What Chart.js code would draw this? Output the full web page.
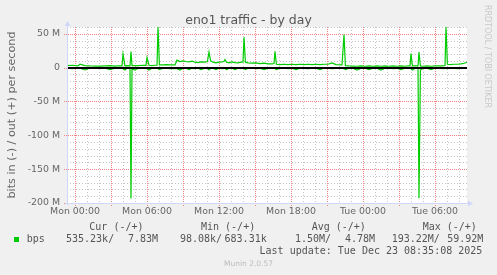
<!DOCTYPE html>
<html>
<head>
<meta charset="utf-8">
<script src="https://cdn.jsdelivr.net/npm/chart.js@4/dist/chart.umd.min.js"></script>
<style>
  body { margin: 0; background: #f0f0f0; }
  #wrap { position: relative; width: 497px; height: 275px; overflow: hidden; background: #f0f0f0; }
  #chart { position: absolute; left: 0; top: 0; }
  .t { position: absolute; white-space: pre; color: #666; }
  .mono { font: 10px/12px "DejaVu Sans Mono", monospace; color: #555; }
</style>
</head>
<body>
<div id="wrap">
  <canvas id="chart" width="497" height="275"></canvas>
  <div class="t" style="left:0;width:497px;top:11.7px;text-align:center;font:12.5px/16px 'DejaVu Sans';color:#555;">eno1 traffic - by day</div>
  <div class="t" style="left:481px;top:5px;writing-mode:vertical-rl;font:8px/12px 'DejaVu Sans';color:#c8c8c8;">RRDTOOL / TOBI OETIKER</div>

  <div class="t mono" style="left:89.3px;top:221.3px;">Cur (-/+)</div>
  <div class="t mono" style="left:201px;top:221.3px;">Min (-/+)</div>
  <div class="t mono" style="left:311.7px;top:221.3px;">Avg (-/+)</div>
  <div class="t mono" style="left:422.7px;top:221.3px;">Max (-/+)</div>

  <div style="position:absolute;left:14px;top:236.5px;width:5px;height:5px;background:#00cc00;"></div>
  <div class="t mono" style="left:26.7px;top:233.3px;">bps</div>
  <div class="t mono" style="left:66px;top:233.3px;">535.23k/</div>
  <div class="t mono" style="right:339px;top:233.3px;">7.83M</div>
  <div class="t mono" style="left:180px;top:233.3px;">98.08k/</div>
  <div class="t mono" style="right:230.3px;top:233.3px;">683.31k</div>
  <div class="t mono" style="left:295px;top:233.3px;">1.50M/</div>
  <div class="t mono" style="right:122px;top:233.3px;">4.78M</div>
  <div class="t mono" style="left:391.7px;top:233.3px;">193.22M/</div>
  <div class="t mono" style="right:13.7px;top:233.3px;">59.92M</div>

  <div class="t mono" style="right:14.7px;top:245.3px;">Last update: Tue Dec 23 08:35:08 2025</div>
  <div class="t" style="left:0;width:497px;top:259.2px;text-align:center;font:7.5px/10px 'DejaVu Sans';color:#bbb;">Munin 2.0.57</div>
</div>
<script>
// minutes since Sun 23:20 (start of the 400px window, 5 min per pixel)
const minutes = [
  0, 25, 55, 65, 90, 115, 140, 165, 190, 215, 240, 255, 275, 280, 290, 300, 315, 320, 325, 340,
  355, 380, 395, 400, 410, 425, 440, 450, 455, 462, 480, 500, 515, 540, 550, 565, 580, 595, 610, 625,
  640, 655, 670, 690, 702, 710, 718, 730, 745, 760, 775, 785, 790, 798, 810, 825, 840, 855, 870, 880,
  885, 892, 905, 925, 945, 965, 985, 1005, 1025, 1035, 1040, 1047, 1065, 1085, 1105, 1125, 1145, 1165, 1185, 1205,
  1225, 1245, 1265, 1285, 1305, 1325, 1345, 1375, 1385, 1392, 1410, 1430, 1450, 1470, 1490, 1510, 1530, 1550, 1570, 1590,
  1610, 1630, 1650, 1670, 1690, 1705, 1715, 1720, 1727, 1740, 1755, 1760, 1767, 1780, 1800, 1820, 1840, 1860, 1880, 1890,
  1895, 1902, 1915, 1935, 1955, 1970, 1985, 2000
];
// out (+), Mbit/s
const outMbps = [
  3.0, 3.5, 2.5, 5.0, 3.0, 2.5, 2.2, 2.2, 2.5, 2.8, 2.2, 2.5, 2.5, 20.0, 2.5, 2.8, 2.5, 23.7, 3.0, 3.0,
  3.0, 3.5, 3.2, 14.8, 3.5, 3.0, 3.5, 3.5, 59.9, 4.0, 4.0, 4.5, 4.0, 4.0, 11.0, 9.0, 10.0, 9.0, 8.5, 9.5,
  8.0, 7.5, 8.5, 8.0, 9.0, 23.0, 10.0, 8.0, 7.0, 8.0, 8.5, 9.0, 12.0, 8.0, 7.0, 8.5, 7.5, 7.0, 8.0, 8.0,
  45.0, 8.0, 7.0, 6.5, 7.0, 6.0, 6.5, 5.5, 5.5, 6.0, 24.0, 5.0, 4.5, 5.0, 4.5, 5.0, 4.5, 5.0, 4.5, 5.0,
  4.5, 5.0, 4.5, 5.0, 5.0, 7.0, 4.5, 4.0, 49.0, 3.0, 2.5, 2.2, 2.0, 2.5, 2.0, 2.5, 2.0, 2.5, 2.0, 2.5,
  2.0, 2.5, 2.0, 2.5, 2.0, 2.5, 2.5, 20.7, 2.5, 2.5, 2.5, 23.0, 2.5, 2.0, 2.5, 2.0, 2.5, 2.5, 2.5, 3.0,
  60.0, 5.0, 4.5, 5.0, 5.0, 5.5, 6.5, 7.8
];
// in (-), Mbit/s
const inMbps = [
  -0.8, -1.5, -0.5, -1.0, -3.5, -0.6, -1.2, -0.5, -1.0, -3.0, -0.8, -1.0, -0.8, -1.5, -3.5, -1.0, -1.0, -193.2, -2.0, -3.5,
  -1.0, -0.8, -1.0, -1.5, -3.5, -1.0, -0.5, -1.0, -1.5, -3.0, -1.0, -0.8, -1.5, -1.0, -1.5, -3.5, -1.0, -0.8, -3.0, -1.0,
  -1.5, -0.8, -3.0, -1.0, -1.0, -3.5, -1.2, -0.8, -3.0, -1.0, -1.5, -1.0, -1.0, -3.0, -0.8, -1.0, -3.0, -0.8, -1.0, -1.2,
  -1.5, -3.0, -1.0, -0.8, -1.5, -1.0, -3.0, -0.8, -1.0, -1.0, -1.5, -3.0, -1.0, -0.8, -1.5, -1.0, -3.0, -0.8, -1.0, -1.5,
  -0.8, -1.0, -3.0, -1.0, -0.8, -1.5, -1.0, -1.0, -1.5, -3.0, -1.0, -0.8, -3.5, -1.0, -0.8, -3.0, -1.0, -0.8, -3.5, -1.0,
  -0.8, -1.5, -1.0, -3.0, -0.8, -1.0, -1.0, -1.5, -3.5, -1.0, -1.0, -193.0, -3.5, -1.0, -0.8, -3.0, -1.0, -0.8, -1.5, -1.0,
  -1.0, -1.5, -0.8, -1.0, -1.5, -0.8, -1.0, -0.5
];

const xTickMinutes = [40, 400, 760, 1120, 1480, 1840];
const xTickLabels = ["Mon 00:00", "Mon 06:00", "Mon 12:00", "Mon 18:00", "Tue 00:00", "Tue 06:00"];
const yTickValues = [50, 0, -50, -100, -150, -200];
const yTickLabels = ["50 M", "0", "-50 M", "-100 M", "-150 M", "-200 M"];

const GREEN = "#00cc00";
const AXIS = "#cfd6f8";
const MINOR = "#c4c4c4";
const MAJOR = "#f08484";

const toPoints = (vals) => minutes.map((m, i) => ({ x: m, y: vals[i] }));

function dotted(ctx, x1, y1, x2, y2, color, dash) {
  ctx.strokeStyle = color;
  ctx.setLineDash(dash);
  ctx.beginPath();
  ctx.moveTo(x1, y1);
  ctx.lineTo(x2, y2);
  ctx.stroke();
}

const munin = {
  id: "munin",
  beforeDraw(chart) {
    const { ctx, chartArea: a } = chart;
    ctx.save();
    ctx.fillStyle = "#fff";
    ctx.fillRect(a.left, a.top, a.right - a.left, a.bottom - a.top);
    ctx.restore();
  },
  beforeDatasetsDraw(chart) {
    // rrdtool-style grid: grey every hour / 10 M, red every 3 h / 50 M
    const { ctx, chartArea: a, scales } = chart;
    ctx.save();
    ctx.lineWidth = 1;
    scales.x.ticks.forEach((t) => {
      const x = Math.round(scales.x.getPixelForValue(t.value)) + 0.5;
      const major = (t.value - 40) % 180 === 0;
      dotted(ctx, x, a.top, x, a.bottom + (major ? 3 : 0), major ? MAJOR : MINOR, major ? [1, 1] : [1, 2]);
    });
    scales.y.ticks.forEach((t) => {
      const y = Math.round(scales.y.getPixelForValue(t.value)) + 0.5;
      const major = t.value % 50 === 0;
      dotted(ctx, a.left - (major ? 3 : 0), y, a.right, y, major ? MAJOR : MINOR, major ? [1, 1] : [1, 2]);
    });
    ctx.restore();
  },
  afterDatasetsDraw(chart) {
    // black HRULE at 0, drawn over the data like rrdtool does
    const { ctx, chartArea: a, scales } = chart;
    const y0 = Math.round(scales.y.getPixelForValue(0));
    ctx.save();
    ctx.fillStyle = "#000";
    ctx.fillRect(a.left, y0 - 1, a.right - a.left, 2);
    ctx.restore();
  },
  afterDraw(chart) {
    const { ctx, chartArea: a } = chart;
    ctx.save();
    ctx.strokeStyle = AXIS;
    ctx.fillStyle = AXIS;
    ctx.lineWidth = 1;
    ctx.beginPath();
    ctx.moveTo(a.left + 0.5, a.bottom + 2);
    ctx.lineTo(a.left + 0.5, a.top - 4);
    ctx.moveTo(a.left - 2, a.bottom + 0.5);
    ctx.lineTo(a.right + 3, a.bottom + 0.5);
    ctx.stroke();
    ctx.beginPath();
    ctx.moveTo(a.left + 0.5, a.top - 6);
    ctx.lineTo(a.left - 2.5, a.top - 1);
    ctx.lineTo(a.left + 3.5, a.top - 1);
    ctx.fill();
    ctx.beginPath();
    ctx.moveTo(a.right + 6, a.bottom + 0.5);
    ctx.lineTo(a.right + 1, a.bottom - 2.5);
    ctx.lineTo(a.right + 1, a.bottom + 3.5);
    ctx.fill();
    ctx.restore();
  }
};

new Chart(document.getElementById("chart"), {
  type: "line",
  data: {
    datasets: [
      {
        label: "bps out",
        data: toPoints(outMbps),
        borderColor: GREEN,
        borderWidth: 1.2,
        pointRadius: 0,
        tension: 0
      },
      {
        label: "bps in",
        data: toPoints(inMbps),
        borderColor: GREEN,
        borderWidth: 1.2,
        pointRadius: 0,
        tension: 0
      }
    ]
  },
  options: {
    responsive: false,
    animation: false,
    devicePixelRatio: 1,
    layout: { padding: { left: 0, top: 27, right: 30, bottom: 52 } },
    plugins: { legend: { display: false }, tooltip: { enabled: false }, title: { display: false } },
    scales: {
      x: {
        type: "linear",
        min: 0,
        max: 2000,
        afterBuildTicks: (scale) => {
          const t = [];
          for (let v = 40; v <= 2000; v += 60) t.push({ value: v });
          scale.ticks = t;
        },
        afterFit: (scale) => { scale.height = 20; },
        ticks: {
          autoSkip: false,
          maxRotation: 0,
          minRotation: 0,
          padding: 3,
          color: "#666",
          font: { family: "DejaVu Sans", size: 9.4 },
          callback: (v) => {
            const i = xTickMinutes.indexOf(v);
            return i >= 0 ? xTickLabels[i] : "";
          }
        },
        grid: { display: false, drawTicks: false },
        border: { display: false }
      },
      y: {
        min: -200,
        max: 60,
        afterBuildTicks: (scale) => {
          const t = [];
          for (let v = -200; v <= 60; v += 10) t.push({ value: v });
          scale.ticks = t;
        },
        afterFit: (scale) => { scale.width = 67; },
        ticks: {
          autoSkip: false,
          padding: 7,
          color: "#666",
          font: { family: "DejaVu Sans", size: 9.4 },
          callback: (v) => {
            const i = yTickValues.indexOf(v);
            return i >= 0 ? yTickLabels[i] : "";
          }
        },
        grid: { display: false, drawTicks: false },
        border: { display: false },
        title: {
          display: true,
          text: "bits in (-) / out (+) per second",
          color: "#666",
          font: { family: "DejaVu Sans", size: 11.2 },
          padding: { top: 5, bottom: 0 }
        }
      }
    }
  },
  plugins: [munin]
});
</script>
</body>
</html>
